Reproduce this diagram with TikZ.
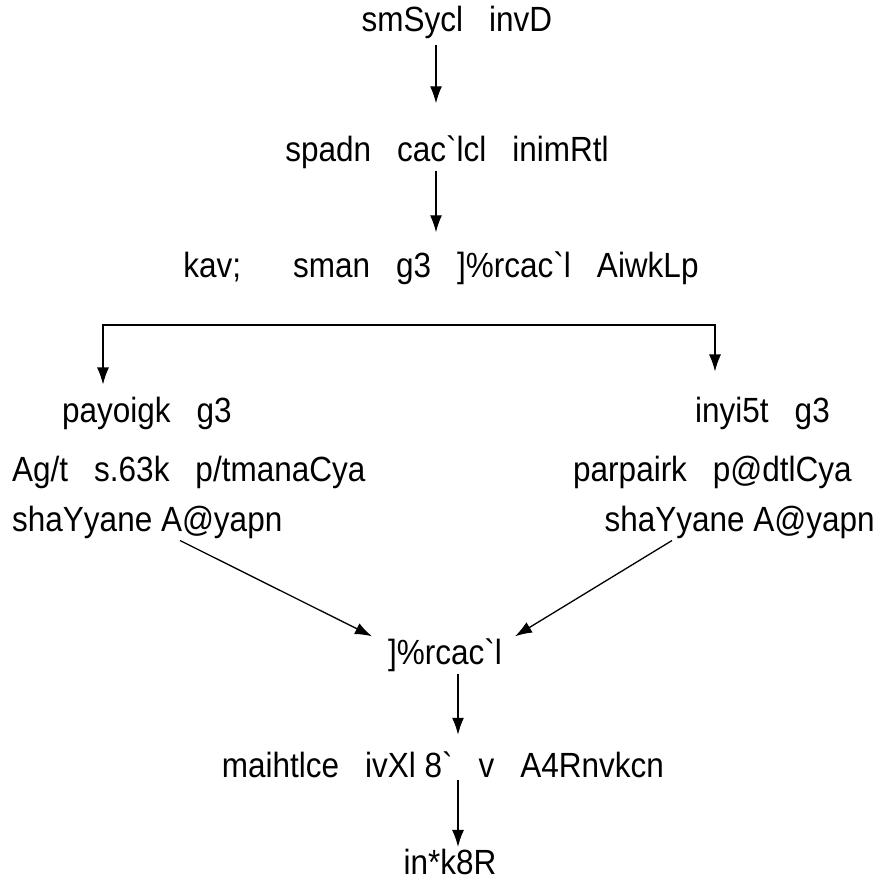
\documentclass[tikz,border=0pt]{standalone}
\usepackage{fontspec}
\newfontfamily\garbled[FakeStretch=0.9]{Liberation Sans}
\newcommand{\gap}{\hspace{26pt}}
\usetikzlibrary{arrows.meta,positioning}

\begin{document}
\begin{tikzpicture}[x=1pt,y=-1pt,
    font=\garbled\fontsize{35}{40}\selectfont,
    every node/.style={inner sep=2pt},
    arr/.style={line width=1.3pt,-{Latex[length=17pt,width=12pt]}}]
    \useasboundingbox (0,0) rectangle (879,881);
    \node (start) at (457,22) {smSycl\gap invD};
    \node (prep) at (447,152) {spadn\gap cac`lcl\gap inimRtl};
    \node (split) at (441,268) {kav;\gap\gap sman\gap g3\gap ]\%rcac`l\gap AiwkLp};
    \coordinate (fork) at (409,325);
    \node[anchor=west] (l1) at (60,413) {payoigk\gap g3};
    \node[anchor=west] (l2) at (10,472) {Ag/t\gap s.63k\gap p/tmanaCya};
    \node[anchor=west] (l3) at (10,522) {shaYyane A@yapn};
    \node[anchor=east] (r1) at (832,413) {inyi5t\gap g3};
    \node[anchor=east] (r2) at (854,472) {parpairk\gap p@dtlCya};
    \node[anchor=east] (r3) at (877,522) {shaYyane A@yapn};
    \node (merge) at (445,655) {]\%rcac`l};
    \node (check) at (443,765) {maihtlce\gap ivXl 8`\gap v\gap A4Rnvkcn};
    \node (done) at (450,862) {in*k8R};
    \draw[arr,shorten <=4pt,shorten >=30pt] ([xshift=-21pt]start.south) -- ([xshift=-11pt]prep.north);
    \draw[arr,shorten >=17pt] ([xshift=-11pt]prep.south) -- ([xshift=-5pt]split.north);
    \draw[arr,shorten >=10pt] (fork) -| ([xshift=43pt]l1.north west);
    \draw[arr,shorten >=23pt] (fork) -| ([xshift=-117pt]r1.north east);
    \draw[arr] ([xshift=170pt]l3.south west) -- ([xshift=-73pt]merge.north);
    \draw[arr] ([xshift=-205pt]r3.south east) -- ([xshift=70pt]merge.north);
    \draw[arr,shorten >=15pt] ([xshift=13pt]merge.south) -- ([xshift=15pt]check.north);
    \draw[arr] ([xshift=15pt]check.south) -- ([xshift=8pt]done.north);
\end{tikzpicture}
\end{document}
